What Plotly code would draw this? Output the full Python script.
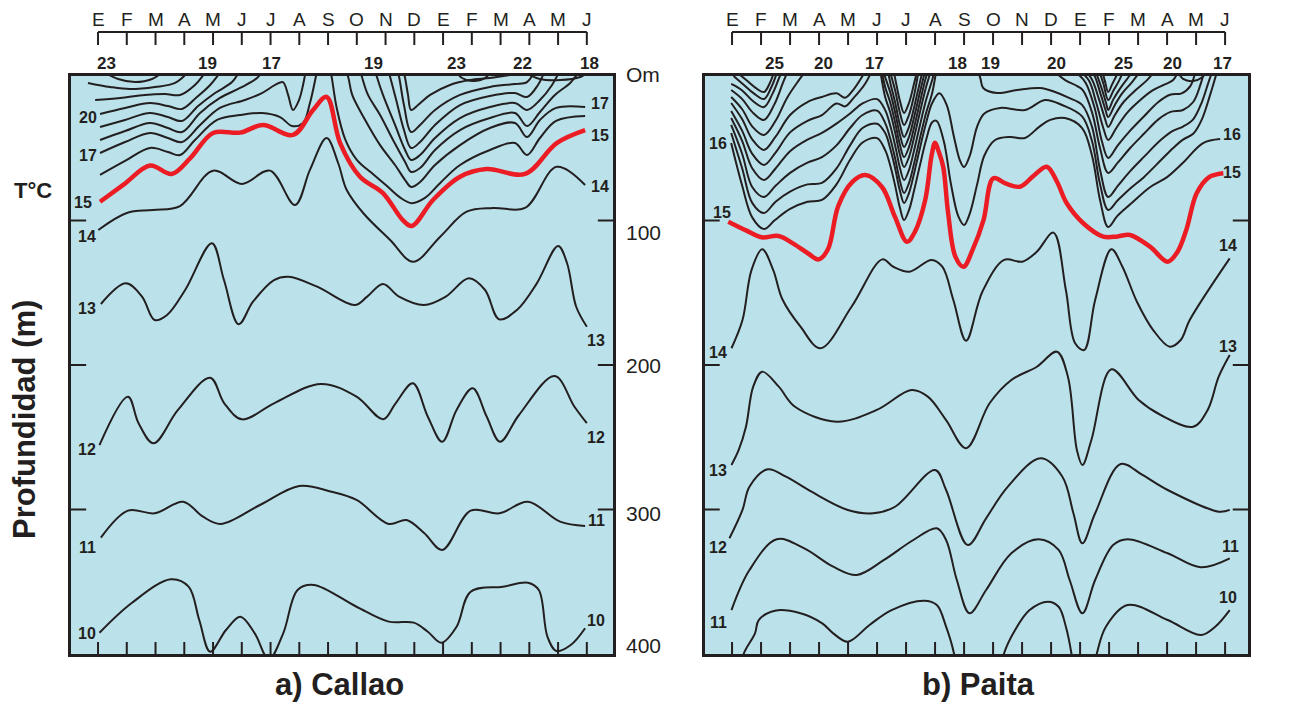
import plotly.graph_objects as go

# ---------------------------------------------------------------- axes / labels
MONTHS = ["E", "F", "M", "A", "M", "J", "J", "A", "S", "O", "N", "D",
          "E", "F", "M", "A", "M", "J"]
DEPTH_TICKS = [100, 200, 300]
DEPTH_LABELS = ["Om", "100", "200", "300", "400"]
DEPTH_LABEL_AT = [0, 100, 200, 300, 400]
DEPTH_LABEL_SHIFT = [1, -12, 0, -4, 9]

# surface temperature (°C) written under the month axis
CALLAO_SURF_MONTH = [0.28, 3.8, 6.05, 9.57, 12.48, 14.77, 17.1]
CALLAO_SURF_TEMP = ["23", "19", "17", "19", "23", "22", "18"]
PAITA_SURF_MONTH = [1.45, 3.14, 4.9, 7.76, 8.9, 11.2, 13.5, 15.2, 16.9]
PAITA_SURF_TEMP = ["25", "20", "17", "18", "19", "20", "25", "20", "17"]

# isotherm labels (text, month, depth)
CALLAO_LBL_TEXT = ["20", "17", "15", "14", "13", "12", "11", "10",
                   "17", "15", "14", "13", "12", "11", "10"]
CALLAO_LBL_MONTH = [-0.35, -0.35, -0.52, -0.38, -0.38, -0.38, -0.38, -0.38,
                    17.46, 17.46, 17.46, 17.32, 17.32, 17.32, 17.32]
CALLAO_LBL_DEPTH = [28.4, 54.7, 87.2, 111.4, 160.6, 258.8, 326.6, 385.5,
                    18.7, 41.5, 76.8, 182.7, 250.5, 307.3, 376.5]
PAITA_LBL_TEXT = ["16", "15", "14", "13", "12", "11",
                  "16", "15", "14", "13", "11", "10"]
PAITA_LBL_MONTH = [-0.48, -0.34, -0.48, -0.48, -0.48, -0.48,
                   17.24, 17.24, 17.1, 17.1, 17.17, 17.1]
PAITA_LBL_DEPTH = [46.4, 94.8, 191.0, 272.7, 326.6, 377.9,
                   40.8, 67.1, 117.0, 186.9, 325.3, 360.6]

# ---------------------------------------------------------------- Callao isotherms (month, depth m)
CALLAO_15 = [(0.07, 87), (0.9, 75), (1.81, 62), (2.56, 67.8), (3.2, 57), (4.0, 39.4),
             (4.94, 39.2), (5.74, 33.9), (6.78, 40.8), (7.48, 23.5), (7.95, 14.5),
             (8.42, 46.4), (9.11, 69.7), (9.91, 81), (10.6, 99.7), (10.91, 103.8),
             (11.65, 85.8), (12.59, 69.7), (13.52, 64.4), (14.85, 67.8), (15.95, 46.4),
             (16.94, 37.4)]
CALLAO_14 = [(0.01, 106.6), (1.0, 94.8), (1.91, 92.7), (2.85, 90), (4.0, 65.5), (5.0, 74.7),
             (5.98, 65.5), (6.85, 89.3), (7.37, 65), (7.95, 42.9), (8.35, 60.2), (8.65, 78.9),
             (9.22, 94.8), (10.16, 113.5), (10.96, 128.5), (11.9, 111.2), (12.82, 93.9),
             (13.74, 91.3), (14.85, 91.3), (15.95, 62.8), (16.94, 75.4)]
CALLAO_13 = [(0.10, 157.8), (0.97, 143.5), (1.53, 152.7), (1.97, 168.9), (2.40, 165.4),
             (3.03, 148.1), (3.96, 115.8), (4.38, 141.2), (4.89, 171.8), (5.39, 156.2),
             (6.12, 141.2), (6.63, 138.9), (7.62, 145.8), (8.93, 158.5), (9.36, 152.7),
             (9.91, 143.9), (10.47, 152.7), (11.34, 158.5), (12.09, 152.7), (12.9, 140),
             (13.46, 148.1), (13.95, 168.4), (14.57, 161.9), (15.26, 143.5), (16.0, 117.6),
             (16.31, 129.4), (16.63, 159.7), (17.0, 173.5)]
CALLAO_12 = [(0.05, 255.4), (1.04, 221.9), (1.41, 240.3), (1.93, 254.2), (2.78, 231.1),
             (3.90, 208.8), (4.39, 226.5), (5.01, 237.6), (6.12, 226.5), (7.75, 213.1),
             (8.99, 221.9), (9.92, 237.6), (10.35, 226.5), (10.95, 212.7), (11.47, 235.8),
             (11.97, 253.1), (12.47, 231.1), (13.03, 216.1), (13.52, 235.8), (13.98, 253.1),
             (14.64, 234.6), (15.88, 207.6), (16.57, 228.9), (17.0, 240.3)]
CALLAO_11 = [(0.10, 319.5), (1.04, 300.8), (1.97, 302.6), (2.96, 294.6), (3.65, 305),
             (4.27, 310), (5.63, 296.9), (7.0, 283.7), (8.12, 287.7), (8.99, 293.4),
             (10.11, 310), (10.73, 307.3), (11.35, 316.5), (11.97, 328), (12.96, 300.8),
             (13.96, 302.6), (14.95, 294.6), (16.07, 308.4), (16.94, 311.4)]
CALLAO_10 = [(0.05, 385.3), (1.16, 364.9), (2.53, 348.3), (3.15, 353.4), (3.52, 376.5),
             (3.90, 398.4), (4.45, 383.4), (4.95, 374.2), (5.45, 385.7), (5.94, 403.7),
             (6.44, 385.7), (6.94, 355.7), (7.50, 352.2), (8.99, 367.3), (10.11, 377.6),
             (10.98, 378.3), (11.47, 384.6), (11.94, 392.2), (12.47, 381.1), (12.96, 356.9),
             (14.08, 353.4), (14.95, 350.7), (15.33, 355.7), (15.63, 388), (15.94, 397.9),
             (16.44, 393.8), (16.94, 382.2)]
CALLAO_16 = [(0.07, 68.5), (0.94, 58.8), (1.81, 49.8), (2.43, 52.6), (2.85, 54.7),
             (3.37, 44.3), (4.14, 30.4), (4.94, 27), (5.7, 25.6), (6.33, 28.4), (6.75, 34.6),
             (7.13, 32.5), (7.37, 18.7), (7.58, 0), (7.65, -6.9), None,
             (8.07, -4.2), (8.12, 0), (8.3, 22), (8.6, 44), (9.0, 58), (9.57, 68),
             (10.04, 76), (10.5, 84), (10.91, 88), (11.37, 84.4), (11.9, 74), (12.59, 61.6),
             (13.63, 51.2), (14.5, 46.4), (14.92, 54.7), (15.37, 42.9), (15.93, 31.1),
             (16.94, 27.7)]
CALLAO_17 = [(0.07, 53.3), (0.94, 45.7), (1.81, 39.4), (2.43, 42.9), (2.92, 45.7),
             (3.55, 33.9), (4.24, 22.1), (5.11, 16.6), (5.7, 11.8), (6.16, 6.2), (6.43, 4.2),
             (6.61, 13.1), (6.78, 23.5), (6.99, 16.6), (7.13, 6.2), (7.23, -4.2), None,
             (8.59, -4.2), (8.7, 0.7), (8.84, 13.1), (9.29, 30.4), (9.81, 47.8), (10.33, 61.6),
             (10.68, 72), (10.89, 76.8), (11.2, 73.4), (11.72, 61.6), (12.59, 47.8),
             (13.63, 36), (14.5, 32.5), (14.92, 42.2), (15.37, 30.4), (15.93, 22.1),
             (16.94, 21.5)]
CALLAO_18 = [(0.07, 44.3), (0.94, 38.1), (1.81, 32.5), (2.43, 36), (2.92, 38.8), (3.55, 25.6),
             (4.24, 15.2), (4.94, 8.3), (5.53, 1.4), (5.74, -4.2), None,
             (9.11, -4.2), (9.18, 0.7), (9.39, 13.1), (9.81, 27), (10.26, 44.3), (10.68, 59.5),
             (10.89, 66.4), (11.2, 63.7), (11.72, 51.2), (12.59, 37.4), (13.63, 29.1),
             (14.5, 25.6), (14.92, 34.6), (15.37, 24.9), (15.89, 13.1), (16.42, 4.8),
             (16.77, -4.2)]
CALLAO_19 = [(0.07, 35.3), (0.94, 30.4), (1.81, 25.6), (2.43, 28.4), (2.92, 31.1), (3.48, 20.8),
             (4.07, 11.8), (4.66, 4.2), (4.94, -4.2), None,
             (9.63, -4.2), (9.7, 0.7), (9.91, 13.1), (10.33, 33.9), (10.68, 51.2), (10.89, 58.1),
             (11.2, 54.7), (11.72, 42.9), (12.59, 29.1), (13.63, 21.5), (14.5, 18.7),
             (14.92, 23.5), (15.37, 16.6), (15.79, 6.2), (16.07, -4.2)]
CALLAO_20 = [(0.07, 26.3), (0.94, 22.1), (1.81, 18.7), (2.43, 20.8), (2.92, 22.8), (3.44, 14.5),
             (3.9, 6.2), (4.31, -4.2), None,
             (10.09, -4.2), (10.16, 0.7), (10.37, 16.6), (10.64, 37.4), (10.89, 49.8),
             (11.2, 45.7), (11.72, 33.9), (12.59, 20.1), (13.63, 13.8), (14.5, 11.8),
             (14.92, 14.5), (15.3, 6.2), (15.55, -4.2)]
CALLAO_21 = [(-0.1, 16.6), (0.77, 15.2), (1.63, 13.1), (2.33, 12.5), (2.85, 13.1), (3.37, 6.2),
             (3.79, -4.2), None,
             (10.4, -4.2), (10.47, 0.7), (10.64, 20.1), (10.89, 38.8), (11.2, 33.9),
             (11.72, 23.5), (12.59, 13.1), (13.63, 7.6), (14.5, 5.5), (14.92, 4.2), (15.2, -4.2)]
CALLAO_22 = [(-0.35, 4.8), (0.42, 7.6), (1.11, 9), (1.98, 7.6), (2.68, 4.8), (3.2, -4.2), None,
             (10.61, -4.2), (10.68, 1.4), (10.78, 13.1), (10.89, 23.5), (11.13, 20.1),
             (11.55, 13.1), (12.24, 6.2), (12.94, 2.8), (13.63, 1.4), (14.33, -0.7)]
CALLAO_23 = [(0.07, -4.2), (0.7, 2.1), (1.29, 4.2), (1.88, 2.1), (2.33, -4.2), None,
             (12.42, -4.2), (12.66, 1.4), (13.04, 3.5), (13.46, 1.4), (13.7, -4.2), None,
             (14.68, -4.2), (15.37, 2.1), (16.07, 2.8), (16.77, 0.7), (17.04, -2.8)]

# ---------------------------------------------------------------- Paita isotherms (month, depth m)
PAITA_15 = [(-0.13, 100.8), (0.5, 107), (1.02, 111.6), (1.6, 110.7), (2.1, 115.8), (2.6, 122.5),
            (2.99, 126.9), (3.31, 119.7), (3.66, 90), (4.14, 73.4), (4.59, 68.5), (5.17, 76.8),
            (5.62, 97.6), (6.03, 114.7), (6.3, 108), (6.66, 85.8), (6.88, 55), (7.0, 46.2),
            (7.12, 52), (7.28, 62.8), (7.45, 94.8), (7.7, 125), (7.98, 132), (8.3, 120),
            (8.67, 99.7), (9.01, 70.8), (9.45, 74.5), (9.93, 76.6), (10.4, 69), (10.85, 62.8),
            (11.2, 73), (11.54, 88.1), (12.11, 101.9), (12.8, 111.2), (13.3, 111), (13.72, 110),
            (14.41, 118.1), (15.02, 128.5), (15.35, 122), (15.66, 106.6), (16.02, 81.2),
            (16.45, 70), (16.94, 67.3)]
PAITA_14 = [(-0.02, 188.4), (0.36, 168.9), (0.67, 134.3), (1.04, 119.9), (1.42, 134.3),
            (1.73, 154.3), (2.36, 173.5), (3.05, 188.4), (4.12, 159.7), (5.18, 126.9),
            (5.56, 132), (6.12, 135.4), (6.88, 127.3), (7.25, 132), (7.63, 155), (8.07, 183.2),
            (8.63, 149.3), (9.38, 127.3), (10.01, 128.5), (10.51, 121.6), (11.08, 108.4),
            (11.51, 148.1), (11.83, 185), (12.14, 189.6), (12.52, 155), (13.08, 119.9),
            (13.46, 132), (13.96, 156.2), (14.52, 175.8), (15.09, 187.3), (15.47, 182.7),
            (15.78, 168.9), (17.16, 126.2)]
PAITA_13 = [(-0.02, 269.2), (0.23, 258.8), (0.48, 242.7), (0.73, 215), (1.04, 204.6),
            (1.61, 215), (2.17, 228.9), (3.61, 239.2), (4.99, 231.1), (6.19, 217.3),
            (6.75, 221.9), (7.38, 238.1), (8.07, 257.6), (8.88, 226.5), (9.63, 210.4),
            (10.51, 201.2), (11.2, 190.8), (11.58, 208.1), (11.89, 258.8), (12.08, 269.2),
            (12.39, 251.9), (13.08, 203), (14.02, 224.2), (14.78, 234.6), (15.9, 242.7),
            (16.4, 231.1), (16.78, 208.1), (17.16, 193.1)]
PAITA_12 = [(-0.09, 319.9), (0.36, 300.3), (0.6, 284.2), (1.23, 272.2), (1.86, 277.3),
            (2.74, 287.7), (3.99, 300.3), (4.87, 302.6), (5.62, 298.1), (7.0, 272.7),
            (7.38, 286.5), (8.13, 324.6), (8.76, 306.1), (9.51, 284.2), (10.64, 264.6),
            (11.39, 277.3), (11.77, 302.6), (12.08, 323.4), (12.52, 302.6), (13.4, 268.5),
            (14.15, 276.1), (15.02, 286.5), (16.78, 301.5), (17.16, 300.3)]
PAITA_11 = [(-0.02, 369.6), (0.6, 341.9), (1.54, 320.6), (2.49, 326.9), (3.49, 339.6),
            (4.3, 345.3), (5.24, 334.9), (6.25, 321.1), (7.06, 313), (7.38, 321.1),
            (7.75, 348.8), (8.19, 371.8), (8.76, 355.7), (9.63, 330.3), (10.57, 320.6),
            (11.26, 328), (11.64, 348.8), (12.08, 371.8), (12.52, 348.8), (13.14, 324.6),
            (13.64, 320.6), (15.02, 330.3), (16.16, 340), (17.16, 333.8)]
PAITA_10 = [(0.34, 407.6), (0.41, 399.5), (0.79, 385.7), (0.92, 376.5), (1.48, 370),
            (2.36, 371.8), (3.11, 378.8), (3.49, 385.7), (3.99, 391.5), (4.74, 379.9),
            (5.5, 369.6), (6.62, 363.1), (7.06, 366.1), (7.38, 381.1), (7.65, 399.5),
            (7.72, 409.7), None,
            (9.28, 409.7), (9.38, 399.5), (9.76, 383.4), (10.26, 369.6), (10.89, 363.8),
            (11.26, 367.3), (11.51, 381.1), (11.7, 399.5), (11.76, 409.7), None,
            (12.48, 409.7), (12.58, 399.5), (12.89, 381.1), (13.64, 366.1), (15.02, 376.5),
            (16.16, 386.9), (16.66, 381.1), (17.16, 369.6)]
PAITA_16 = [(-0.03, 46.4), (0.35, 76), (0.7, 98), (1.1, 105.9), (1.48, 99.7), (2.0, 92),
            (2.6, 87), (3.1, 85.8), (3.6, 75), (4.07, 58), (4.5, 46), (5.0, 43), (5.28, 51.3),
            (5.45, 61.6), (5.62, 75.5), (5.79, 91.4), (5.93, 99.7), (6.1, 92.8), (6.28, 78.9),
            (6.48, 61.6), (6.69, 44.3), (6.9, 32), (7.05, 31), (7.3, 45), (7.55, 75), (7.8, 97),
            (8.0, 103.1), (8.2, 95), (8.45, 75), (8.7, 55), (9.07, 44.3), (9.59, 42.2),
            (10.1, 42.9), (10.6, 35), (10.97, 30.4), (11.48, 29.1), (12.07, 36), (12.41, 55),
            (12.69, 86), (12.97, 104.5), (13.28, 97), (13.72, 89), (14.41, 77), (15.0, 70),
            (15.55, 60), (16.24, 46.4), (16.83, 43.6)]
PAITA_17 = [(-0.03, 39.4), (0.35, 64), (0.7, 88), (1.1, 94.8), (1.5, 87), (2.0, 80), (2.6, 75),
            (3.1, 74), (3.6, 64), (4.07, 48), (4.5, 36), (5.0, 33), (5.28, 39.5), (5.45, 49.8),
            (5.62, 63.7), (5.79, 79.6), (5.93, 87.9), (6.1, 81), (6.28, 67.1), (6.48, 49.8),
            (6.69, 32.5), (6.9, 18.7), (7.15, 12), (7.4, 20), (7.65, 42), (7.85, 58), (8.0, 63),
            (8.2, 55), (8.45, 35), (8.7, 26), (9.24, 22.1), (10.1, 23.5), (10.79, 16.6),
            (11.38, 20.1), (12.07, 28), (12.41, 45), (12.69, 75), (12.97, 92.7), (13.3, 86),
            (13.72, 78), (14.2, 70), (14.8, 58), (15.2, 50), (15.55, 44), (15.9, 40),
            (16.2, 30), (16.5, 12), (16.75, -5)]
PAITA_18 = [(-0.03, 33.9), (0.35, 54), (0.7, 77), (1.1, 83.7), (1.5, 76), (2.0, 67), (2.6, 60),
            (3.1, 56.1), (3.6, 48), (4.07, 36), (4.5, 27), (5.0, 24), (5.28, 32.6), (5.45, 42.9),
            (5.62, 56.8), (5.79, 72.7), (5.93, 81), (6.1, 74.1), (6.28, 60.2), (6.48, 42.9),
            (6.69, 25.6), (6.9, 11.8), (7.05, -5), None,
            (8.28, -9.7), (8.55, 0.7), (8.66, 8.3), (9.14, 11.8), (9.83, 9.7), (10.62, 8.3),
            (11.14, 11.1), (11.6, 15), (12.07, 20), (12.41, 35), (12.69, 65), (12.97, 83.7),
            (13.3, 76), (13.72, 66), (14.2, 56), (14.8, 44), (15.2, 38), (15.55, 35),
            (15.9, 30), (16.2, 18), (16.45, 3), (16.6, -5)]
PAITA_19 = [(-0.03, 29.1), (0.35, 45), (0.7, 64), (1.1, 72), (1.5, 64), (2.0, 52), (2.6, 44),
            (3.1, 39.4), (3.6, 33), (4.07, 26), (4.5, 19), (5.0, 16), (5.28, 23.6), (5.45, 33.9),
            (5.62, 47.8), (5.79, 63.7), (5.93, 72), (6.1, 65.1), (6.28, 51.2), (6.48, 33.9),
            (6.69, 16.6), (6.9, 2.8), (7.0, -5), None,
            (11.0, -5), (11.5, 3), (11.9, 7), (12.1, 10), (12.41, 25), (12.69, 50), (12.97, 67.1),
            (13.3, 60), (13.72, 50), (14.2, 40), (14.7, 30), (15.1, 25), (15.55, 23.5),
            (15.9, 18), (16.15, 6), (16.3, -5)]
PAITA_20 = [(-0.03, 24.2), (0.35, 38), (0.7, 54), (1.1, 61.6), (1.5, 53), (2.0, 39), (2.6, 31),
            (3.1, 27), (3.6, 19), (3.9, 21), (4.2, 15), (4.6, 5), (4.85, -5), None,
            (5.1, -5), (5.28, 14.6), (5.45, 24.9), (5.62, 38.8), (5.79, 54.7), (5.93, 63),
            (6.1, 56.1), (6.28, 42.2), (6.48, 24.9), (6.69, 7.6), (6.9, -6.2), None,
            (11.6, -5), (12.0, 0), (12.2, 5), (12.5, 22), (12.75, 45), (12.97, 56.7), (13.3, 48),
            (13.72, 38), (14.2, 28), (14.7, 18), (15.1, 13), (15.5, 12), (15.8, 7), (16.0, -5)]
PAITA_21 = [(-0.03, 18.7), (0.35, 30), (0.7, 44), (1.1, 51.2), (1.5, 42), (2.0, 27), (2.6, 18),
            (3.1, 14.5), (3.6, 12), (3.9, 15), (4.2, 9), (4.5, 0), (4.65, -5), None,
            (5.15, -5), (5.28, 7.7), (5.45, 18), (5.62, 31.9), (5.79, 47.8), (5.93, 56.1),
            (6.1, 49.2), (6.28, 35.3), (6.48, 18), (6.69, 0.7), (6.85, -8), None,
            (11.9, -5), (12.3, 3), (12.55, 18), (12.8, 36), (12.97, 44.3), (13.25, 36),
            (13.6, 26), (14.0, 18), (14.5, 10), (14.9, 6), (15.2, 3), (15.4, -4)]
PAITA_22 = [(-0.03, 14.5), (0.35, 23), (0.7, 35), (1.1, 40.8), (1.5, 31), (1.9, 15), (2.3, 3),
            (2.6, -5), None,
            (5.2, -6), (5.28, 0.7), (5.45, 11), (5.62, 24.9), (5.79, 40.8), (5.93, 49.1),
            (6.1, 42.2), (6.28, 28.3), (6.48, 11), (6.69, -6.3), None,
            (12.1, -5), (12.4, 2), (12.65, 16), (12.85, 29), (12.97, 35.3), (13.2, 27),
            (13.5, 18), (13.9, 10), (14.3, 3), (14.6, -4)]
PAITA_23 = [(-0.03, 9.7), (0.35, 16), (0.7, 25), (1.1, 30.4), (1.45, 20), (1.75, 5), (1.95, -5),
            None,
            (5.35, -6), (5.45, 4.1), (5.62, 18), (5.79, 33.9), (5.93, 42.2), (6.1, 35.3),
            (6.28, 21.4), (6.48, 4.1), (6.6, -6), None,
            (12.3, -5), (12.5, 0), (12.7, 12), (12.87, 23), (12.97, 28.4), (13.2, 20),
            (13.45, 12), (13.8, 4), (14.1, -4)]
PAITA_24 = [(-0.03, 5.5), (0.35, 10), (0.7, 17), (1.1, 21.5), (1.4, 12), (1.65, 0), (1.8, -6),
            None,
            (5.4, -6), (5.62, 9.7), (5.79, 25.6), (5.93, 33.9), (6.1, 27), (6.28, 13.1),
            (6.45, -6), None,
            (12.45, -5), (12.55, -2), (12.75, 9), (12.9, 19), (12.97, 23.5), (13.15, 16),
            (13.4, 8), (13.7, 0), (13.85, -4)]
PAITA_25 = [(0.05, 0), (0.4, 6), (0.75, 12), (1.1, 15.9), (1.35, 8), (1.55, -2), (1.65, -6), None,
            (5.55, -5), (5.62, 1.4), (5.79, 17.3), (5.93, 25.6), (6.1, 18.7), (6.28, 4.8),
            (6.4, -5), None,
            (12.55, -5), (12.65, -3), (12.8, 5), (12.97, 16.6), (13.15, 10), (13.35, 3),
            (13.5, -4)]
PAITA_26 = [(0.2, -2), (0.5, 3), (0.8, 8), (1.1, 11.1), (1.3, 5), (1.45, -3), None,
            (12.65, -5), (12.75, -3), (12.85, 3), (12.97, 11.1), (13.1, 6), (13.25, 0),
            (13.35, -4), None,
            (15.35, -4), (15.55, 2), (15.9, 3.5), (16.2, 1), (16.4, -4)]

CALLAO_BLACK = [CALLAO_10, CALLAO_11, CALLAO_12, CALLAO_13, CALLAO_14, CALLAO_16, CALLAO_17,
                CALLAO_18, CALLAO_19, CALLAO_20, CALLAO_21, CALLAO_22, CALLAO_23]
PAITA_BLACK = [PAITA_10, PAITA_11, PAITA_12, PAITA_13, PAITA_14, PAITA_16, PAITA_17, PAITA_18,
               PAITA_19, PAITA_20, PAITA_21, PAITA_22, PAITA_23, PAITA_24, PAITA_25, PAITA_26]

# ---------------------------------------------------------------- style
INK = "#231f20"
RED = "#ec1c24"
SEA = "#bbe2ea"
FONT = "Liberation Sans, Arial, sans-serif"
W, H = 1309, 702


def split(points):
    xs, ys = [], []
    for p in points:
        if p is None:
            xs.append(None)
            ys.append(None)
        else:
            xs.append(p[0])
            ys.append(p[1])
    return xs, ys


fig = go.Figure()

for axes, black, red in (("1", CALLAO_BLACK, CALLAO_15), ("2", PAITA_BLACK, PAITA_15)):
    xa = "x" if axes == "1" else "x2"
    ya = "y" if axes == "1" else "y2"
    for line in black:
        xs, ys = split(line)
        fig.add_trace(go.Scatter(x=xs, y=ys, mode="lines", xaxis=xa, yaxis=ya,
                                 line=dict(color=INK, width=2, shape="spline", smoothing=1.0),
                                 hoverinfo="skip", showlegend=False))
    xs, ys = split(red)
    fig.add_trace(go.Scatter(x=xs, y=ys, mode="lines", xaxis=xa, yaxis=ya,
                             line=dict(color=RED, width=4.5, shape="spline", smoothing=1.0),
                             hoverinfo="skip", showlegend=False))

axis_common = dict(showgrid=False, zeroline=False, showticklabels=False, ticks="",
                   showline=True, mirror=True, linecolor=INK, linewidth=2.5)

fig.update_layout(
    width=W, height=702,
    margin=dict(l=0, r=0, t=0, b=0),
    paper_bgcolor="white", plot_bgcolor=SEA,
    font=dict(family=FONT, color=INK),
    xaxis=dict(domain=[71 / W, 613 / W], range=[-0.94, 17.91], anchor="y", **axis_common),
    yaxis=dict(domain=[1 - 654 / H, 1 - 76 / H], range=[400, 0], anchor="x", **axis_common),
    xaxis2=dict(domain=[704.5 / W, 1248 / W], range=[-0.95, 17.79], anchor="y2", **axis_common),
    yaxis2=dict(domain=[1 - 654 / H, 1 - 76 / H], range=[400, 0], anchor="x2", **axis_common),
)

shapes = []
annotations = []
AXIS_Y = 1 - 32 / H
TICK_Y = 1 - 45 / H
MONTH_Y = 1 - 19 / H
SURF_Y = 1 - 63 / H
n = len(MONTHS)

for xa, ya, surf_m, surf_t, lbl_t, lbl_m, lbl_d in (
        ("x", "y", CALLAO_SURF_MONTH, CALLAO_SURF_TEMP, CALLAO_LBL_TEXT, CALLAO_LBL_MONTH,
         CALLAO_LBL_DEPTH),
        ("x2", "y2", PAITA_SURF_MONTH, PAITA_SURF_TEMP, PAITA_LBL_TEXT, PAITA_LBL_MONTH,
         PAITA_LBL_DEPTH)):
    # month axis across the top
    shapes.append(dict(type="line", xref=xa, yref="paper", x0=0, x1=n - 1, y0=AXIS_Y, y1=AXIS_Y,
                       line=dict(color=INK, width=2)))
    for i, mth in enumerate(MONTHS):
        shapes.append(dict(type="line", xref=xa, yref="paper", x0=i, x1=i, y0=AXIS_Y, y1=TICK_Y,
                           line=dict(color=INK, width=2)))
        annotations.append(dict(xref=xa, yref="paper", x=i, y=MONTH_Y, text=mth, showarrow=False,
                                font=dict(size=19, family=FONT, color=INK),
                                xanchor="center", yanchor="middle"))
        # month ticks along the bottom edge
        shapes.append(dict(type="line", xref=xa, yref=ya, x0=i, x1=i, y0=400, y1=391.7,
                           line=dict(color=INK, width=2)))
    for m, t in zip(surf_m, surf_t):
        annotations.append(dict(xref=xa, yref="paper", x=m, y=SURF_Y, text="<b>%s</b>" % t,
                                showarrow=False, font=dict(size=17, family=FONT, color=INK),
                                xanchor="center", yanchor="middle"))
    # depth ticks on both sides
    for d in DEPTH_TICKS:
        for x0, x1 in ((0, 0.028), (0.972, 1)):
            shapes.append(dict(type="line", xref=xa + " domain", yref=ya, x0=x0, x1=x1,
                               y0=d, y1=d, line=dict(color=INK, width=2)))
    for t, m, d in zip(lbl_t, lbl_m, lbl_d):
        annotations.append(dict(xref=xa, yref=ya, x=m, y=d, text="<b>%s</b>" % t,
                                showarrow=False, font=dict(size=16, family=FONT, color=INK),
                                xanchor="center", yanchor="middle"))

# depth scale between the panels
for t, d, s in zip(DEPTH_LABELS, DEPTH_LABEL_AT, DEPTH_LABEL_SHIFT):
    annotations.append(dict(xref="paper", yref="y", x=643 / W, y=d, yshift=s, text=t,
                            showarrow=False, font=dict(size=21, family=FONT, color=INK),
                            xanchor="center", yanchor="middle"))

annotations += [
    dict(xref="paper", yref="paper", x=340 / W, y=1 - 684 / H, text="<b>a) Callao</b>",
         showarrow=False, font=dict(size=31, family=FONT, color=INK),
         xanchor="center", yanchor="middle"),
    dict(xref="paper", yref="paper", x=978 / W, y=1 - 684 / H, text="<b>b) Paita</b>",
         showarrow=False, font=dict(size=31, family=FONT, color=INK),
         xanchor="center", yanchor="middle"),
    dict(xref="paper", yref="paper", x=24 / W, y=1 - 420 / H, text="<b>Profundidad (m)</b>",
         textangle=-90, showarrow=False, font=dict(size=31, family=FONT, color=INK),
         xanchor="center", yanchor="middle"),
    dict(xref="paper", yref="paper", x=33 / W, y=1 - 190 / H, text="<b>T°C</b>",
         showarrow=False, font=dict(size=22, family=FONT, color=INK),
         xanchor="center", yanchor="middle"),
]

fig.update_layout(shapes=shapes, annotations=annotations)
fig.write_html("out.html")
